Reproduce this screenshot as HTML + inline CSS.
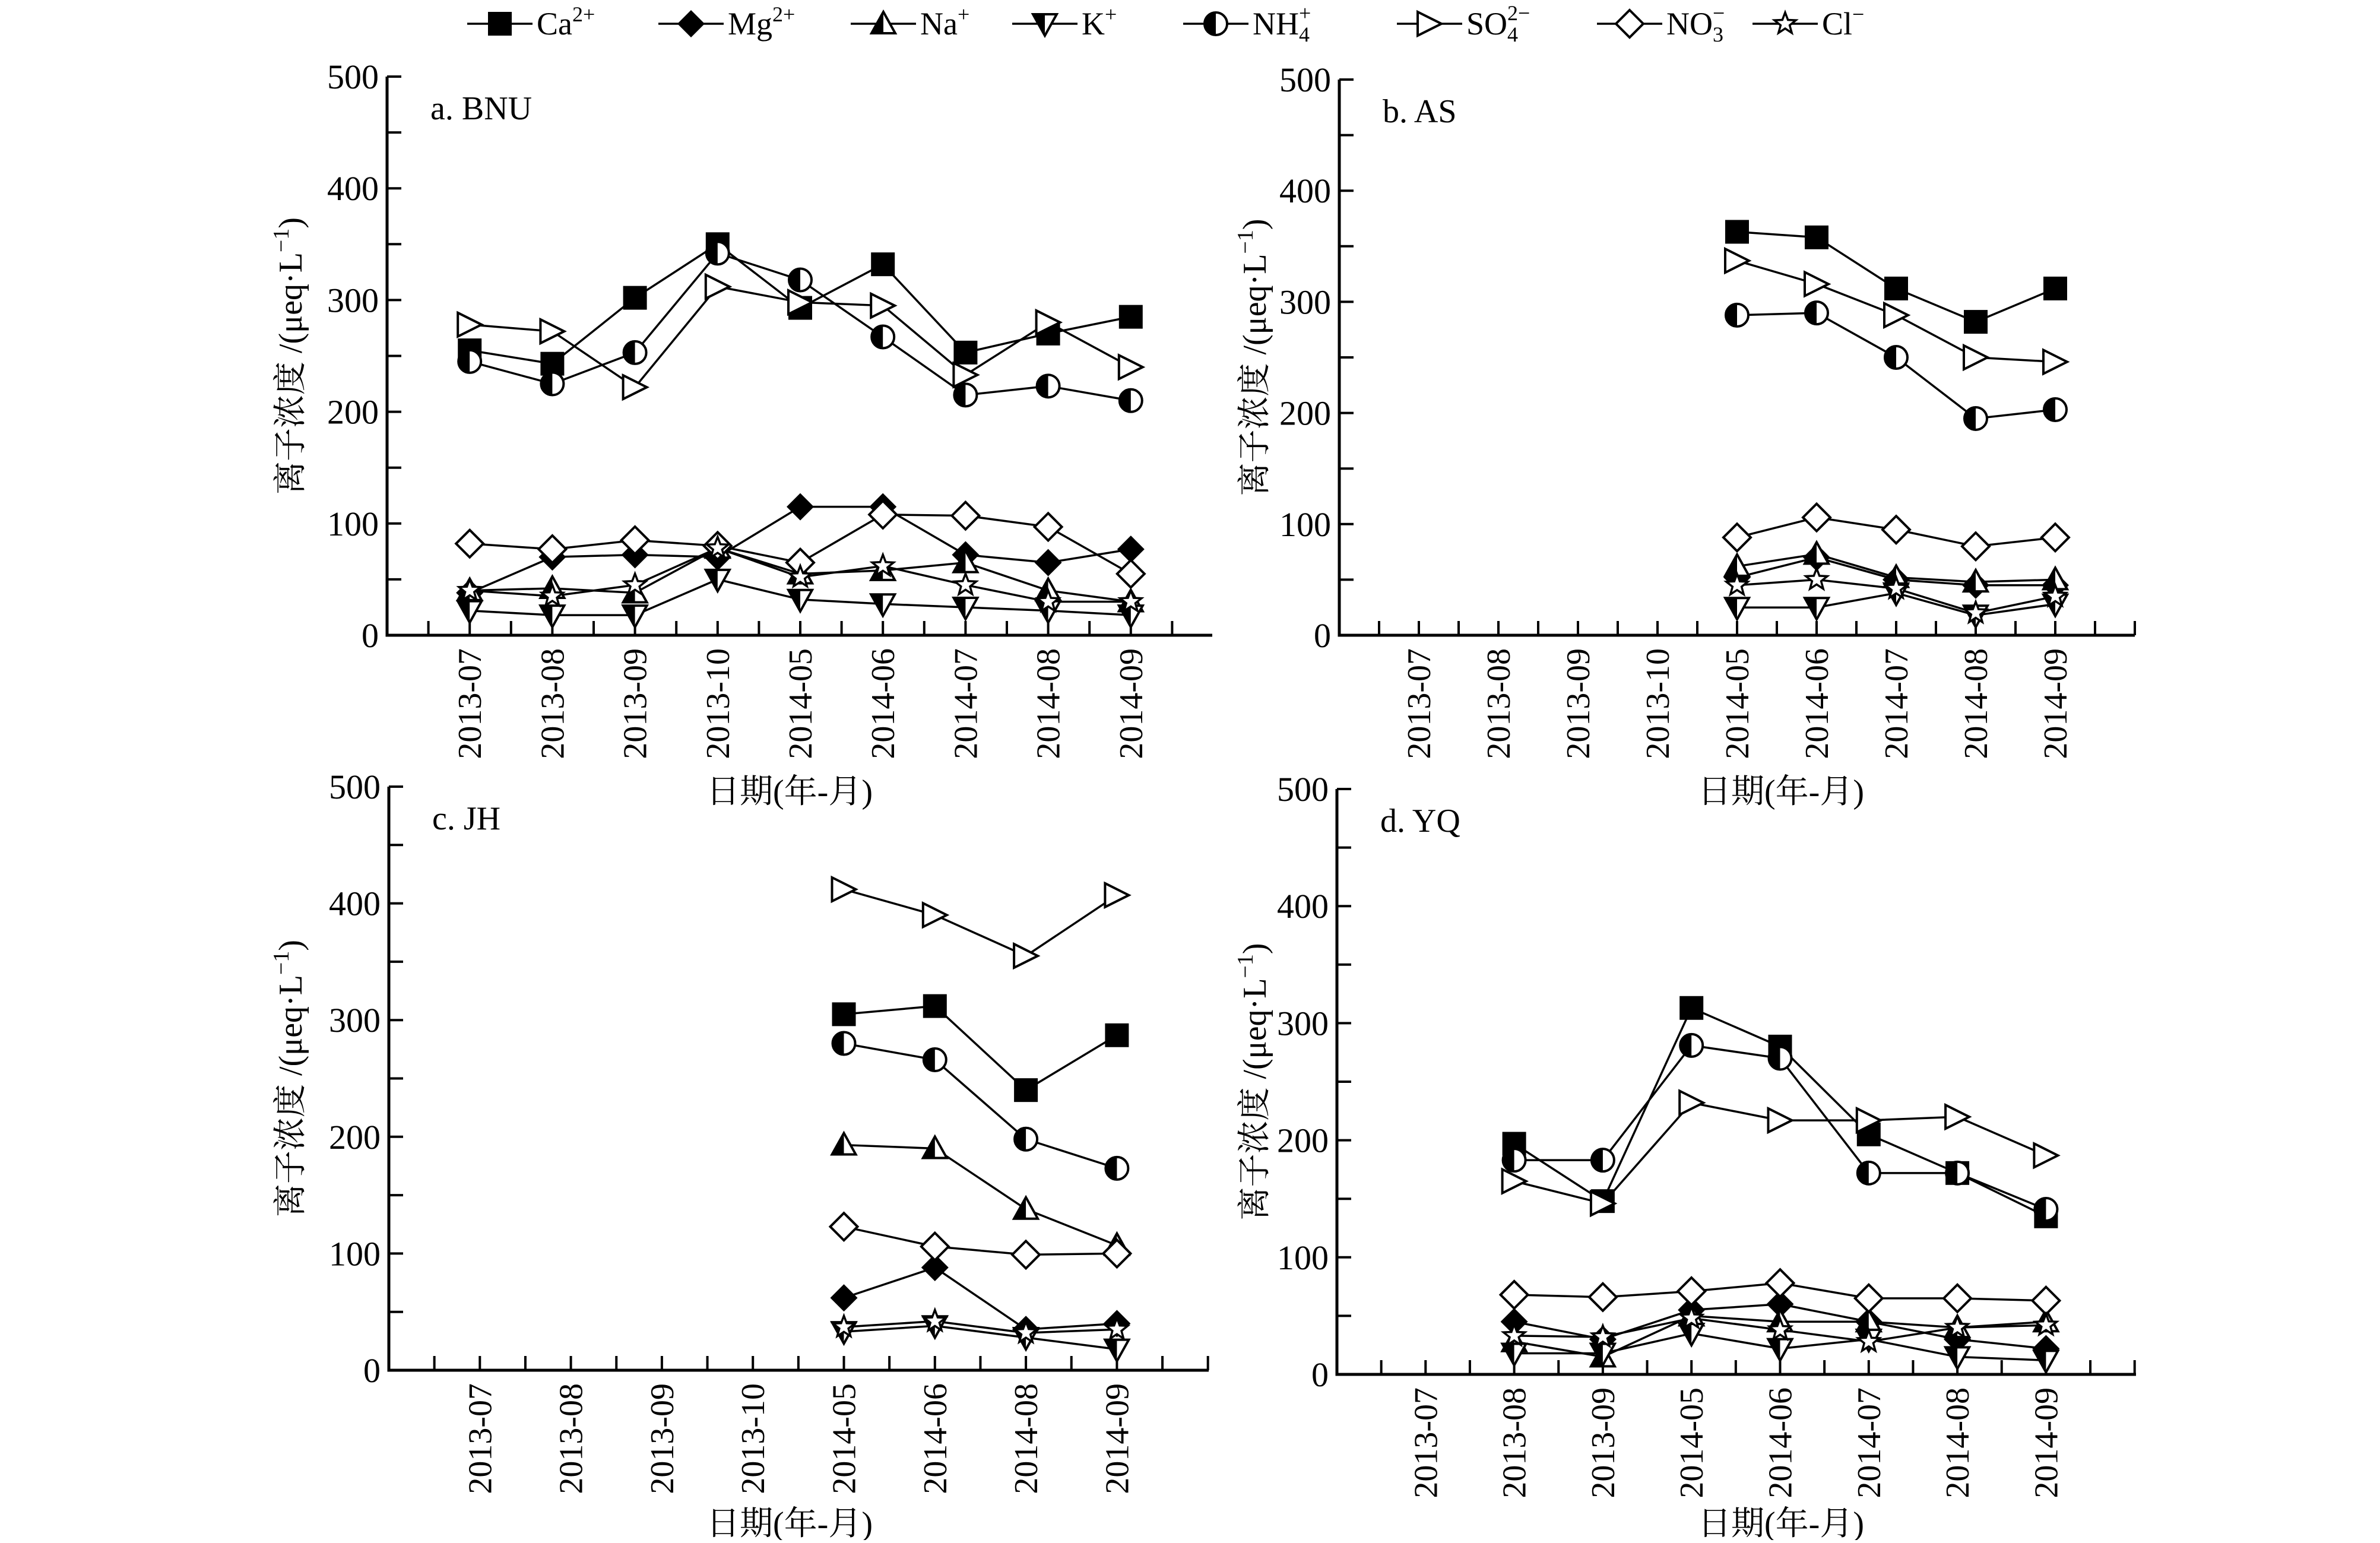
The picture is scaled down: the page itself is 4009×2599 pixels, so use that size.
<!DOCTYPE html>
<html><head><meta charset="utf-8"><style>
html,body{margin:0;padding:0;background:#fff;}
svg text{font-family:"Liberation Serif","Noto Serif CJK SC","Noto Sans CJK SC",serif;fill:#000;}
</style></head><body>
<svg id="chart" xmlns="http://www.w3.org/2000/svg" width="4009" height="2594" viewBox="0 0 4009 2594">
<rect width="4009" height="2594" fill="#fff"/>
<g id="legend"></g>
<g id="panels"></g>
</svg>
<script>
const seriesKeys = ["Ca","Mg","Na","K","NH4","SO4","NO3","Cl"];
const labels9 = ["2013-07","2013-08","2013-09","2013-10","2014-05","2014-06","2014-07","2014-08","2014-09"];
const labelsC = ["2013-07","2013-08","2013-09","2013-10","2014-05","2014-06","2014-08","2014-09"];
const labelsD = ["2013-07","2013-08","2013-09","2014-05","2014-06","2014-07","2014-08","2014-09"];
const yTicks = [0,100,200,300,400,500];
// panel a (BNU) - all 9 months
const a_Ca  = [255,243,302,350,293,332,253,270,285];
const a_Mg  = [38,70,72,70,115,115,72,65,77];
const a_Na  = [40,42,38,78,55,58,65,40,30];
const a_K   = [22,18,18,50,32,28,25,22,18];
const a_NH4 = [245,225,253,342,318,267,215,223,210];
const a_SO4 = [278,272,222,312,298,295,233,280,240];
const a_NO3 = [82,77,85,80,65,108,107,97,55];
const a_Cl  = [40,35,45,78,52,62,45,30,30];
// panel b (AS)
const b_Ca  = [null,null,null,null,363,358,312,282,312];
const b_Mg  = [null,null,null,null,52,70,50,45,45];
const b_Na  = [null,null,null,null,62,73,52,48,50];
const b_K   = [null,null,null,null,25,25,38,18,28];
const b_NH4 = [null,null,null,null,288,290,250,195,203];
const b_SO4 = [null,null,null,null,337,316,288,250,246];
const b_NO3 = [null,null,null,null,88,106,95,80,88];
const b_Cl  = [null,null,null,null,45,50,42,20,35];
// panel c (JH)
const c_Ca  = [null,null,null,null,305,312,240,287];
const c_Mg  = [null,null,null,null,62,88,35,40];
const c_Na  = [null,null,null,null,193,190,138,107];
const c_K   = [null,null,null,null,33,38,28,18];
const c_NH4 = [null,null,null,null,280,266,198,173];
const c_SO4 = [null,null,null,null,412,390,355,407];
const c_NO3 = [null,null,null,null,123,106,99,100];
const c_Cl  = [null,null,null,null,37,42,32,35];
// panel d (YQ)
const d_Ca  = [null,197,148,313,280,205,172,135];
const d_Mg  = [null,45,30,55,60,45,30,22];
const d_Na  = [null,28,15,50,45,45,40,45];
const d_K   = [null,18,18,35,22,30,15,12];
const d_NH4 = [null,183,183,281,270,172,172,141];
const d_SO4 = [null,165,146,232,217,217,220,187];
const d_NO3 = [null,68,66,71,78,65,65,63];
const d_Cl  = [null,33,32,48,38,28,40,42];

const NS="http://www.w3.org/2000/svg";
function mk(tag,attrs,parent){const e=document.createElementNS(NS,tag);for(const k in attrs)e.setAttribute(k,attrs[k]);if(parent)parent.appendChild(e);return e;}

function marker(g,key,cx,cy){
  const r=20, sw=4;
  if(key==="Ca"){mk("rect",{x:cx-r,y:cy-r,width:2*r,height:2*r,fill:"#000"},g);}
  else if(key==="Mg"){mk("polygon",{points:`${cx},${cy-r-3} ${cx+r+3},${cy} ${cx},${cy+r+3} ${cx-r-3},${cy}`,fill:"#000"},g);}
  else if(key==="NO3"){mk("polygon",{points:`${cx},${cy-r-3} ${cx+r+3},${cy} ${cx},${cy+r+3} ${cx-r-3},${cy}`,fill:"#fff",stroke:"#000","stroke-width":sw},g);}
  else if(key==="Na"){mk("polygon",{points:`${cx},${cy-r} ${cx+r},${cy+r*0.8} ${cx-r},${cy+r*0.8}`,fill:"#fff",stroke:"#000","stroke-width":sw},g);
    mk("polygon",{points:`${cx},${cy-r} ${cx},${cy+r*0.8} ${cx-r},${cy+r*0.8}`,fill:"#000"},g);}
  else if(key==="K"){mk("polygon",{points:`${cx-r},${cy-r*0.8} ${cx+r},${cy-r*0.8} ${cx},${cy+r}`,fill:"#fff",stroke:"#000","stroke-width":sw},g);
    mk("polygon",{points:`${cx-r},${cy-r*0.8} ${cx},${cy-r*0.8} ${cx},${cy+r}`,fill:"#000"},g);}
  else if(key==="NH4"){mk("circle",{cx:cx,cy:cy,r:r-1,fill:"#fff",stroke:"#000","stroke-width":sw},g);
    mk("path",{d:`M${cx},${cy-r+1} A${r-1},${r-1} 0 0 0 ${cx},${cy+r-1} Z`,fill:"#000"},g);}
  else if(key==="SO4"){mk("polygon",{points:`${cx-r},${cy-r} ${cx+r},${cy} ${cx-r},${cy+r}`,fill:"#fff",stroke:"#000","stroke-width":sw},g);}
  else if(key==="Cl"){let p=[];for(let i=0;i<10;i++){const ang=-Math.PI/2+i*Math.PI/5;const rr=i%2?8:19;p.push((cx+rr*Math.cos(ang)).toFixed(1)+","+(cy+rr*Math.sin(ang)).toFixed(1));}
    mk("polygon",{points:p.join(" "),fill:"#fff",stroke:"#000","stroke-width":3.5},g);}
}

// legend
const legendItems=[
 ["Ca",842,"Ca","2+",""],["Mg",1164,"Mg","2+",""],["Na",1488,"Na","+",""],["K",1760,"K","+",""],
 ["NH4",2048,"NH","+","4"],["SO4",2408,"SO","2−","4"],["NO3",2745,"NO","−","3"],["Cl",3007,"Cl","−",""]];
const lg=document.getElementById("legend");
legendItems.forEach(it=>{
  const g=mk("g",{},lg);
  
  
  mk("line",{x1:it[1]-55,x2:it[1]+55,y1:40,y2:40,stroke:"#000","stroke-width":3.5},g);
  marker(g,it[0],it[1],40);
  const t=mk("text",{x:it[1]+62,y:58,"font-size":54},g);
  t.appendChild(document.createTextNode(it[2]));
  if(it[4]){const s=mk("tspan",{"font-size":36,dy:12},t);s.textContent=it[4];
    const u=mk("tspan",{"font-size":36,dx:-18,dy:-36},t);u.textContent=it[3];}
  else{const u=mk("tspan",{"font-size":36,dy:-22},t);u.textContent=it[3];}
});

const panels=[
 {id:"a",title:"a. BNU",x0:652,x1:2042,yt:129,yb:1070,step:139.2,labels:labels9,
  data:{Ca:a_Ca,Mg:a_Mg,Na:a_Na,K:a_K,NH4:a_NH4,SO4:a_SO4,NO3:a_NO3,Cl:a_Cl},xl:1330,xly:1352,yl:488},
 {id:"b",title:"b. AS",x0:2256,x1:3596,yt:134,yb:1070,step:134,labels:labels9,
  data:{Ca:b_Ca,Mg:b_Mg,Na:b_Na,K:b_K,NH4:b_NH4,SO4:b_SO4,NO3:b_NO3,Cl:b_Cl},xl:3000,xly:1352,yl:2112},
 {id:"c",title:"c. JH",x0:655,x1:2036,yt:1325,yb:2308,step:153.3,labels:labelsC,
  data:{Ca:c_Ca,Mg:c_Mg,Na:c_Na,K:c_K,NH4:c_NH4,SO4:c_SO4,NO3:c_NO3,Cl:c_Cl},xl:1330,xly:2585,yl:488},
 {id:"d",title:"d. YQ",x0:2252,x1:3598,yt:1329,yb:2315,step:149.3,labels:labelsD,
  data:{Ca:d_Ca,Mg:d_Mg,Na:d_Na,K:d_K,NH4:d_NH4,SO4:d_SO4,NO3:d_NO3,Cl:d_Cl},xl:3000,xly:2585,yl:2112}
];
const root=document.getElementById("panels");
panels.forEach(P=>{
  const g=mk("g",{},root);
  
  
  const yS=v=>P.yb-(v/500)*(P.yb-P.yt);
  const xS=i=>P.x0+(i+1)*P.step;
  // axes
  const ax=mk("path",{d:`M${P.x0},${P.yt} L${P.x0},${P.yb} L${P.x1},${P.yb}`,fill:"none",stroke:"#000","stroke-width":5},g);
  
  
  for(let v=0;v<=500;v+=50){mk("line",{x1:P.x0,x2:P.x0+24,y1:yS(v),y2:yS(v),stroke:"#000","stroke-width":4},g);}
  yTicks.forEach(v=>{const t=mk("text",{x:P.x0-14,y:yS(v)+20,"font-size":58,"text-anchor":"end"},g);t.textContent=v;
    
    });
  const half=P.step/2;
  for(let x=P.x0+half;x<=P.x1+1;x+=half){mk("line",{x1:x,x2:x,y1:P.yb,y2:P.yb-24,stroke:"#000","stroke-width":4},g);}
  P.labels.forEach((l,i)=>{const x=xS(i)+19, y=P.yb+22;
    const t=mk("text",{x:x,y:y,"font-size":56,"text-anchor":"end",transform:`rotate(-90 ${x} ${y})`},g);t.textContent=l;
    
    });
  const tt=mk("text",{x:P.x0+73,y:P.yt+72,"font-size":56},g);tt.textContent=P.title;
  
  
  const xt=mk("text",{x:P.xl,y:P.xly,"font-size":56,"text-anchor":"middle"},g);xt.textContent="日期(年-月)";
  
  
  const cy=(P.yt+P.yb)/2;
  const yt=mk("text",{x:P.yl+20,y:cy,"font-size":56,"text-anchor":"middle",transform:`rotate(-90 ${P.yl+20} ${cy})`},g);
  yt.appendChild(document.createTextNode("离子浓度 /(μeq·L"));
  const sp=mk("tspan",{"font-size":38,dy:-22},yt);sp.textContent="−1";
  const sp2=mk("tspan",{dy:22},yt);sp2.textContent=")";
  
  
  // lines
  seriesKeys.forEach(k=>{const arr=P.data[k];let d="";arr.forEach((v,i)=>{if(v==null)return;d+=(d?"L":"M")+xS(i)+","+yS(v)+" ";});
    const ln=mk("path",{d:d,fill:"none",stroke:"#000","stroke-width":3.5},g);
    
    });
  seriesKeys.forEach(k=>{const arr=P.data[k];const mg=mk("g",{},g);
    
    
    arr.forEach((v,i)=>{if(v==null)return;marker(mg,k,xS(i),yS(v));});});
});
</script>
</body></html>
